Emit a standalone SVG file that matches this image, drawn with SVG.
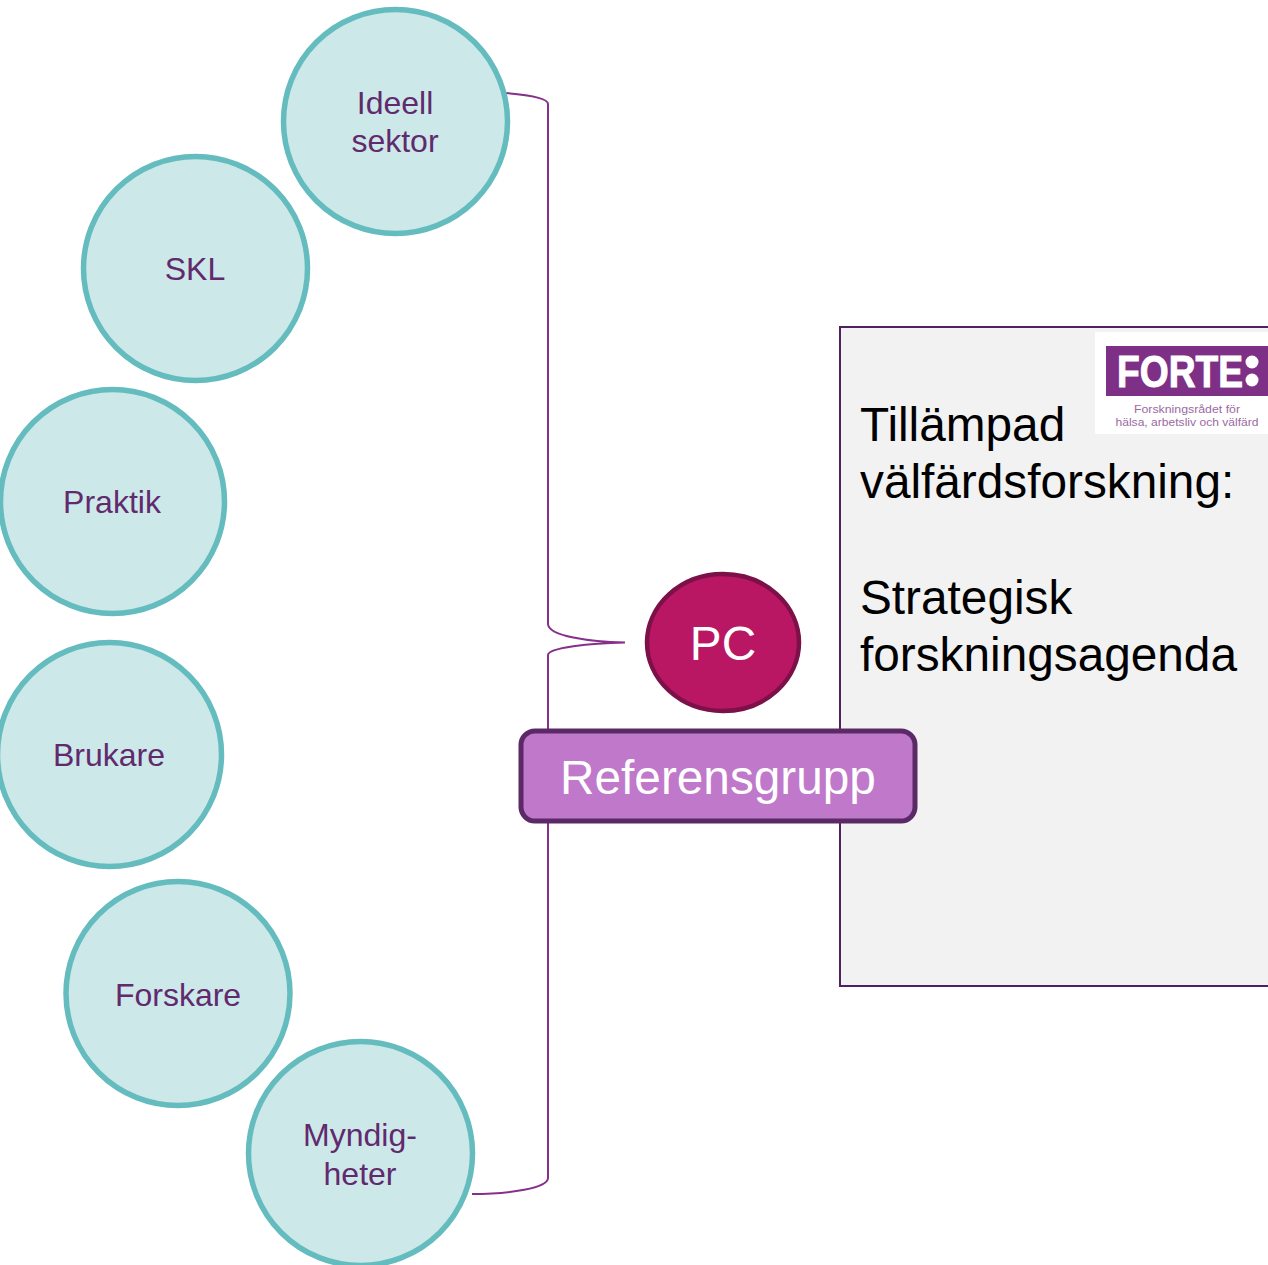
<svg xmlns="http://www.w3.org/2000/svg" width="1268" height="1265" viewBox="0 0 1268 1265">
<style>
text{font-family:"Liberation Sans",Arial,sans-serif}
.c{fill:#cde8e9;stroke:#65bcbe;stroke-width:5.5}
.cl{fill:#612a6d;font-size:32px;text-anchor:middle}
.big{fill:#000;font-size:47.75px}
.br{fill:none;stroke:#86308c;stroke-width:2}
.sm{fill:#9a6aa2;font-size:11.500px;text-anchor:middle}
</style>
<rect width="1268" height="1265" fill="#fff"/>
<g id="panel">
<rect x="840" y="327" width="440" height="659" fill="#f2f2f2" stroke="#4f2160" stroke-width="2"/>
<text class="big" x="860" y="441">Tillämpad</text>
<text class="big" x="860" y="498">välfärdsforskning:</text>
<text class="big" x="860" y="614">Strategisk</text>
<text class="big" x="860" y="671">forskningsagenda</text>
</g>
<g id="logo">
<rect x="1095" y="332" width="173" height="102" fill="#fff"/>
<rect x="1106" y="346" width="162" height="50" fill="#7e2f86"/>
<text x="1117" y="387" font-size="44" font-weight="bold" fill="#fff" stroke="#fff" stroke-width="1" textLength="126" lengthAdjust="spacingAndGlyphs">FORTE</text>
<circle cx="1252" cy="362" r="6.500" fill="#fff"/>
<circle cx="1252" cy="380" r="6.500" fill="#fff"/>
<text class="sm" x="1187" y="413" textLength="106" lengthAdjust="spacingAndGlyphs">Forskningsrådet för</text>
<text class="sm" x="1187" y="426" textLength="143" lengthAdjust="spacingAndGlyphs">hälsa, arbetsliv och välfärd</text>
</g>
<g id="connectors">
<path class="br" d="M506 93C530 95 548 98 548 104V624C548 636 590 642 625 642.500C590 643 548 648 548 655V1178C548 1188 510 1194 472 1194"/>
</g>
<g id="n-ideell"><circle class="c" cx="395.500" cy="121.500" r="112"/><text class="cl" x="395" y="114">Ideell</text><text class="cl" x="395" y="152">sektor</text></g>
<g id="n-skl"><circle class="c" cx="195.500" cy="268.500" r="112"/><text class="cl" x="195" y="280">SKL</text></g>
<g id="n-praktik"><circle class="c" cx="112.500" cy="501.500" r="112"/><text class="cl" x="112" y="513">Praktik</text></g>
<g id="n-brukare"><circle class="c" cx="109.500" cy="754.500" r="112"/><text class="cl" x="109" y="766">Brukare</text></g>
<g id="n-forskare"><circle class="c" cx="178" cy="993.500" r="112"/><text class="cl" x="178" y="1006">Forskare</text></g>
<g id="n-myndig"><circle class="c" cx="360.500" cy="1153.500" r="112"/><text class="cl" x="360" y="1146">Myndig-</text><text class="cl" x="360" y="1185">heter</text></g>
<g id="n-pc"><ellipse cx="723" cy="642.500" rx="76" ry="68.500" fill="#b91763" stroke="#7c1048" stroke-width="4.500"/><text x="723" y="660" font-size="47.75" fill="#fff" text-anchor="middle">PC</text></g>
<g id="n-ref"><rect x="521" y="731" width="394" height="90" rx="14" fill="#bf78ca" stroke="#5b2a66" stroke-width="5"/><text x="718" y="794" font-size="47.75" fill="#fff" text-anchor="middle">Referensgrupp</text></g>
</svg>
